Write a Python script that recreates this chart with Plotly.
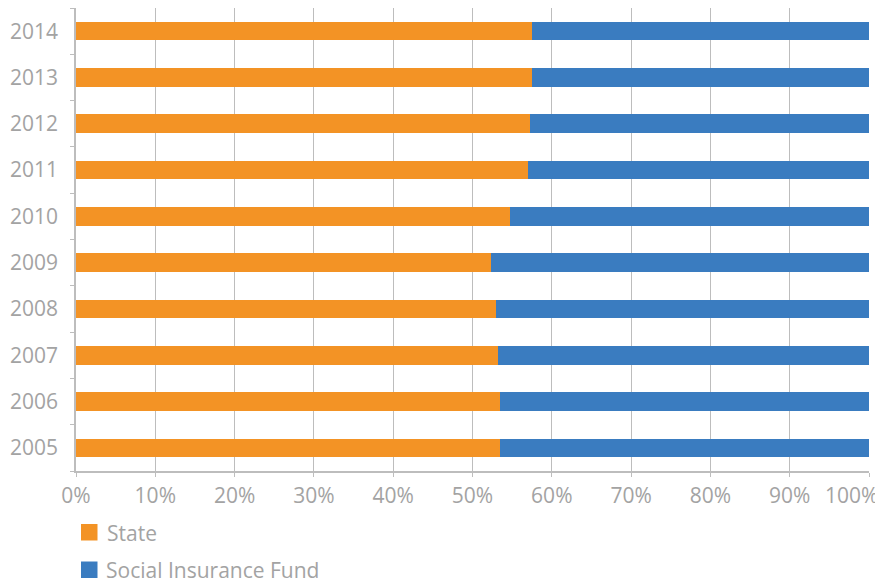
import plotly.graph_objects as go

years = ["2005", "2006", "2007", "2008", "2009", "2010", "2011", "2012", "2013", "2014"]
state = [53.5, 53.5, 53.2, 52.9, 52.3, 54.7, 57.0, 57.3, 57.5, 57.5]
social_fund = [46.5, 46.5, 46.8, 47.1, 47.7, 45.3, 43.0, 42.7, 42.5, 42.5]
x_ticks = [0, 10, 20, 30, 40, 50, 60, 70, 80, 90, 100]
x_tick_labels = ["0%", "10%", "20%", "30%", "40%", "50%", "60%", "70%", "80%", "90%", "100%"]
series_names = ["State", "Social Insurance Fund"]

ORANGE = "#F39325"
BLUE = "#3A7CC0"
TEXT = "#A3A3A3"
GRID = "#BDBDBD"
FONT = "Open Sans"
FS = 21

# figure geometry (the page body adds an 8px offset)
W, H = 875, 576
ML, MR, MT, MB = 68, 14, 0, 113
PW, PH = W - ML - MR, H - MT - MB


def px(fx):
    return (fx - ML) / PW


def py(fy):
    return (PH + MT - fy) / PH


fig = go.Figure()
fig.add_trace(go.Bar(y=years, x=state, orientation="h", marker=dict(color=ORANGE, line=dict(width=0)),
                     name=series_names[0]))
fig.add_trace(go.Bar(y=years, x=social_fund, orientation="h", marker=dict(color=BLUE, line=dict(width=0)),
                     name=series_names[1]))

# manual legend
legend_rows = [(516, ORANGE, series_names[0], 96.5), (553.5, BLUE, series_names[1], 95.5)]
shapes = []
annotations = []
for top, col, name, tx in legend_rows:
    shapes.append(dict(type="rect", xref="paper", yref="paper",
                       x0=px(73), x1=px(89.5), y0=py(top + 16.5), y1=py(top),
                       fillcolor=col, line=dict(width=0)))
    annotations.append(dict(text=name, xref="paper", yref="paper", x=px(tx), y=py(top + 8.5),
                            xanchor="left", yanchor="middle", showarrow=False,
                            font=dict(family=FONT, size=FS, color=TEXT)))

# last x tick label is pulled inside the figure edge (as in the original)
tick_text = x_tick_labels[:-1] + [""]
annotations.append(dict(text=x_tick_labels[-1], xref="paper", yref="paper", x=px(872), y=py(487),
                        xanchor="right", yanchor="middle", showarrow=False,
                        font=dict(family=FONT, size=FS, color=TEXT)))

fig.update_layout(
    width=W, height=H,
    margin=dict(l=ML, r=MR, t=MT, b=MB, autoexpand=False),
    barmode="stack", bargap=0.6,
    plot_bgcolor="white", paper_bgcolor="white",
    font=dict(family=FONT, size=FS, color=TEXT),
    showlegend=False,
    shapes=shapes,
    annotations=annotations,
    xaxis=dict(range=[0, 100], tickvals=x_ticks, ticktext=tick_text,
               showgrid=True, gridcolor=GRID, gridwidth=1, zeroline=False,
               showline=True, linecolor=GRID, linewidth=1.5,
               ticks="outside", ticklen=4, tickcolor=GRID, ticklabelstandoff=1,
               tickfont=dict(family=FONT, size=FS, color=TEXT), fixedrange=True),
    yaxis=dict(type="category", categoryorder="array", categoryarray=years,
               showgrid=False, zeroline=False, showline=True, linecolor=GRID, linewidth=1.5,
               ticks="outside", ticklen=4, tickcolor=GRID, tickson="boundaries",
               ticklabelstandoff=12,
               tickfont=dict(family=FONT, size=FS, color=TEXT), fixedrange=True),
)

fig.write_html("out.html")
